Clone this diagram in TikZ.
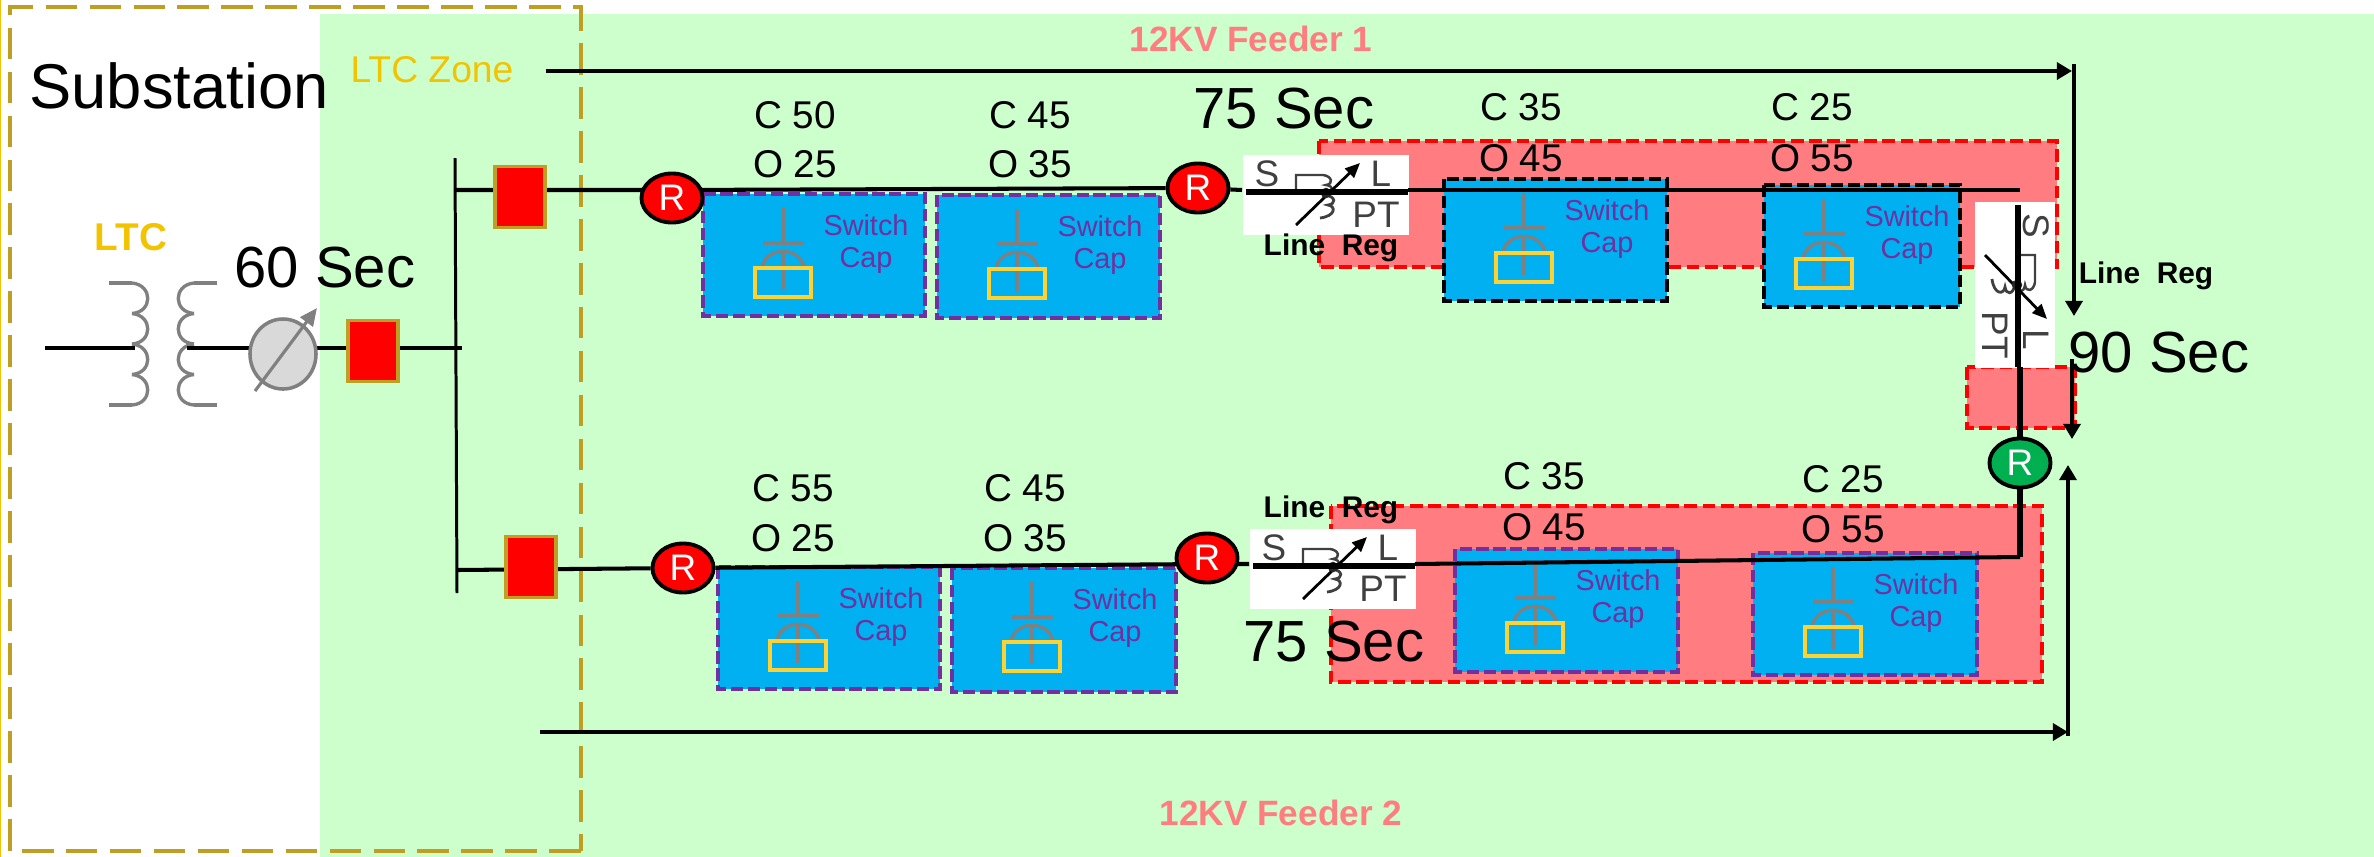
\documentclass[tikz,border=0pt]{standalone}
\usepackage{fontspec}
\setmainfont{Liberation Sans}
\usetikzlibrary{arrows.meta,shapes.geometric}
\pgfdeclarelayer{front}
\pgfsetlayers{main,front}

\definecolor{zonegreen}{HTML}{CCFFCC}
\definecolor{zonered}{HTML}{FF7C80}
\definecolor{ltcgold}{HTML}{BF9F23}
\definecolor{ltcyellow}{HTML}{F2C300}
\definecolor{capblue}{HTML}{00B0F0}
\definecolor{capviolet}{HTML}{7030A0}
\definecolor{capyellow}{HTML}{FFD233}
\definecolor{symgray}{HTML}{808080}
\definecolor{tiegreen}{HTML}{00B050}

\tikzset{
    wire/.style={line width=1.15pt},
    heavywire/.style={line width=1.45pt},
    busbar/.style={line width=0.85pt},
    feeder/.style={line width=1.4pt,-{Triangle[length=4.3pt,width=4.8pt]}},
    breaker/.style={draw=ltcgold,fill=red,line width=1pt,minimum width=0.5cm,minimum height=0.61cm,inner sep=0pt},
    recloser/.style={ellipse,draw=black,fill=red,line width=1.1pt,minimum width=0.61cm,minimum height=0.49cm,inner sep=0pt,text=white,font=\fontsize{10.5}{12}\selectfont},
    redzone/.style={draw=red,fill=zonered,line width=1.1pt,dash pattern=on 3.6pt off 1.6pt},
    capbox/.style={fill=capblue,line width=1.1pt,dash pattern=on 3.5pt off 1.3pt},
    capline/.style={draw=symgray,line width=0.95pt},
    secs/.style={font=\fontsize{16.5}{18}\selectfont,inner sep=0pt},
    setting/.style={font=\fontsize{11}{13}\selectfont,inner sep=0pt},
    feederlabel/.style={font=\bfseries\fontsize{10}{12}\selectfont,text=zonered,inner sep=0pt},
    reglabel/.style={font=\bfseries\fontsize{8.5}{10}\selectfont,inner sep=0pt},
    capname/.style={font=\fontsize{8.2}{10}\selectfont,text=capviolet,inner sep=0pt},
    regtext/.style={font=\fontsize{10.5}{12}\selectfont,text=black!75,inner sep=0pt,transform shape},
    pics/switchcap/.style={code={
        \draw[capline] (80,14) -- (80,49);
        \draw[capline,line width=1.2pt] (60,49) -- (101,49);
        \draw[capline] (80,57) -- (80,96);
        \draw[capline] (59,73) .. controls (64,52) and (96,52) .. (101,73);
        \draw[capyellow,line width=1pt] (52,74) rectangle (108,103);
        \node[capname] (sw) at (163,31) {Switch};
        \node[capname] (cp) at (163,66) {Cap};
    }},
    pics/linereg/.style={code={
        \node[fill=white,minimum width=1.66cm,minimum height=0.8cm,inner sep=0pt,anchor=north west,transform shape] (box) at (0,0) {};
        \coordinate (in) at (0,36);
        \coordinate (out) at (166,36);
        \node[regtext] (s) at (25,20) {S};
        \node[regtext] (l) at (139,20) {L};
        \node[regtext] (pt) at (134,61) {PT};
        \draw[black!75,line width=0.7pt] (54,36) -- (54,21) -- (81,21) .. controls (90,22) and (92,30) .. (84,31) .. controls (92,32) and (92,38) .. (84,39);
        \draw[black!75,line width=0.8pt] (84,41) .. controls (94,43) and (94,50) .. (86,51) .. controls (94,52) and (94,62) .. (78,64);
        \draw[black,line width=0.8pt,-{Triangle[length=4.2pt,width=3.6pt]}] (54,71) -- (118,9);
        \fill[black!85] (84,39) circle (1.5pt);
        \draw[heavywire,line width=1.5pt] (4,38) -- (166,38);
    }}
}

\begin{document}
\begin{tikzpicture}[x=0.01cm,y=-0.01cm]
    \useasboundingbox (0,0) rectangle (2374,857);

    % Backgrounds
    \fill[zonegreen] (320,14) rectangle (2374,857);
    \draw[ltcyellow,line width=0.4pt] (0.5,0) -- (0.5,857);
    \draw[ltcgold,line width=1.1pt,dash pattern=on 9pt off 3.5pt] (581,851) -- (10,851) -- (10,7) -- (581,7) -- cycle;

    % Red zones
    \draw[redzone] (1319,141) rectangle (2057,267);
    \draw[redzone] (1967,367) rectangle (2075,428);
    \draw[redzone] (1331,506) rectangle (2042,682);

    % Switch caps
    \foreach \bx/\by/\bw/\bh/\bcol/\sx in {703/194/222/122/capviolet/703, 937/195/223/123/capviolet/937,
        1444/179/223/122/black/1444, 1764/185/196/122/black/1744,
        718/567/222/122/capviolet/718, 952/568/224/124/capviolet/952,
        1455/549/223/123/capviolet/1455, 1753/553/224/122/capviolet/1753}
    {
        \draw[capbox,draw=\bcol] (\bx,\by) rectangle ++(\bw,\bh);
        \pic (cap\bx) at (\sx,\by) {switchcap};
    }

    % Line regulators
    \pic (regtop) at (1242,154) {linereg};
    \pic (regbot) at (1249,528) {linereg};
    \pic[rotate=-90] (regrgt) at (2056,201) {linereg};

    % Breakers, reclosers and the tap changer stay above the wires
    \begin{pgfonlayer}{front}
        \node[breaker] (cbsub) at (373,351) {};
        \node[breaker] (cbtop) at (520,197) {};
        \node[breaker] (cbbot) at (531,567) {};

        \node[recloser] (rtop1) at (672,198) {R};
        \node[recloser] (rtop2) at (1198,188) {R};
        \node[recloser] (rbot1) at (683,568) {R};
        \node[recloser] (rbot2) at (1207,558) {R};
        \node[recloser,fill=tiegreen] (rtie) at (2020,463) {R};

        \node[ellipse,draw=symgray,fill=black!15,line width=1pt,minimum width=0.66cm,minimum height=0.7cm,inner sep=0pt] (tapch) at (283,354) {};
        \draw[symgray,line width=0.9pt,-{Triangle[length=5pt,width=4.4pt]}] (255,391) -- (317,308);
    \end{pgfonlayer}

    % Transformer
    \draw[capline] (109,283) -- (132,283);
    \draw[capline] (217,283) -- (194,283);
    \draw[capline] (109,405) -- (132,405);
    \draw[capline] (217,405) -- (194,405);
    \foreach \cy in {283,313.5,344,374.5}
    {
        \draw[capline] (132,\cy) .. controls (153,\cy+2) and (153,\cy+29) .. (132,\cy+30.5);
        \draw[capline] (194,\cy) .. controls (173,\cy+2) and (173,\cy+29) .. (194,\cy+30.5);
    }

    % Wires
    \coordinate (subin) at (45,348);
    \coordinate (subprim) at (135,348);
    \coordinate (subsec) at (187,348);
    \coordinate (subbus) at (462,348);
    \draw[wire] (subin) -- (subprim);
    \draw[wire] (subsec) -- (subsec -| tapch) -- (subsec -| cbsub) -- (subbus);

    \coordinate (busup) at (455,158);
    \coordinate (busdown) at (457,593);
    \coordinate (bustop) at (455,190);
    \coordinate (busbot) at (457,570);
    \coordinate (topend) at (2020,190);
    \coordinate (botend) at (2020,557);
    \draw[busbar] (busup) -- (busdown);
    \draw[wire] (bustop) -- (bustop -| rtop1) -- (rtop2) -- (regtopin);
    \draw[wire] (regtopout) -- (topend);
    \draw[wire] (busbot) -- (rbot1) -- (rbot2 |- regbotin) -- (regbotin);
    \draw[wire] (regbotout) -- (botend);
    \draw[heavywire] (botend) -- (rtie) -- (regrgtout);

    % Feeder arrows
    \coordinate (fone) at (546,71);
    \coordinate (foneend) at (2072,71);
    \coordinate (fdownstart) at (2074,64);
    \coordinate (fdownend) at (2074,316);
    \coordinate (fshortstart) at (2072,359);
    \coordinate (fshortend) at (2072,439);
    \coordinate (ftwo) at (540,732);
    \coordinate (ftwoend) at (2068,732);
    \coordinate (fupstart) at (2068,736);
    \coordinate (fupend) at (2068,465);
    \draw[feeder] (fone) -- (foneend);
    \draw[feeder] (fdownstart) -- (fdownend);
    \draw[feeder] (fshortstart) -- (fshortend);
    \draw[feeder] (ftwo) -- (ftwoend);
    \draw[feeder] (fupstart) -- (fupend);

    % Settings of the switch caps
    \foreach \lx/\cy/\oy/\cval/\oval in {795/115/164/C 50/O 25, 1030/115/164/C 45/O 35,
        1521/107/158/C 35/O 45, 1812/107/158/C 25/O 55,
        793/488/538/C 55/O 25, 1025/488/538/C 45/O 35,
        1544/476/527/C 35/O 45, 1843/479/529/C 25/O 55}
    {
        \node[setting] (cl\lx) at (\lx,\cy) {\cval};
        \node[setting] (op\lx) at (\lx,\oy) {\oval};
    }

    % Labels
    \node[font=\fontsize{18}{20}\selectfont,inner sep=0pt] (subst) at (179,86) {Substation};
    \node[font=\fontsize{10.6}{12}\selectfont,text=ltcyellow,inner sep=0pt] (ltczone) at (432,70) {LTC Zone};
    \node[font=\bfseries\fontsize{11}{13}\selectfont,text=ltcyellow,inner sep=0pt] (ltc) at (131,237) {LTC};
    \node[feederlabel] (feedone) at (1251,39) {12KV Feeder 1};
    \node[feederlabel] (feedtwo) at (1281,813) {12KV Feeder 2};
    \node[secs] (sec60) at (325,268) {60 Sec};
    \node[secs] (sec75top) at (1284,109) {75 Sec};
    \node[secs] (sec75bot) at (1334,642) {75 Sec};
    \node[secs] (sec90) at (2159,353) {90 Sec};
    \node[reglabel] (lrtop) at (1331,248) {Line\ \ Reg};
    \node[reglabel] (lrbot) at (1331,510) {Line\ \ Reg};
    \node[reglabel] (lrrgt) at (2146,276) {Line\ \ Reg};
\end{tikzpicture}
\end{document}
